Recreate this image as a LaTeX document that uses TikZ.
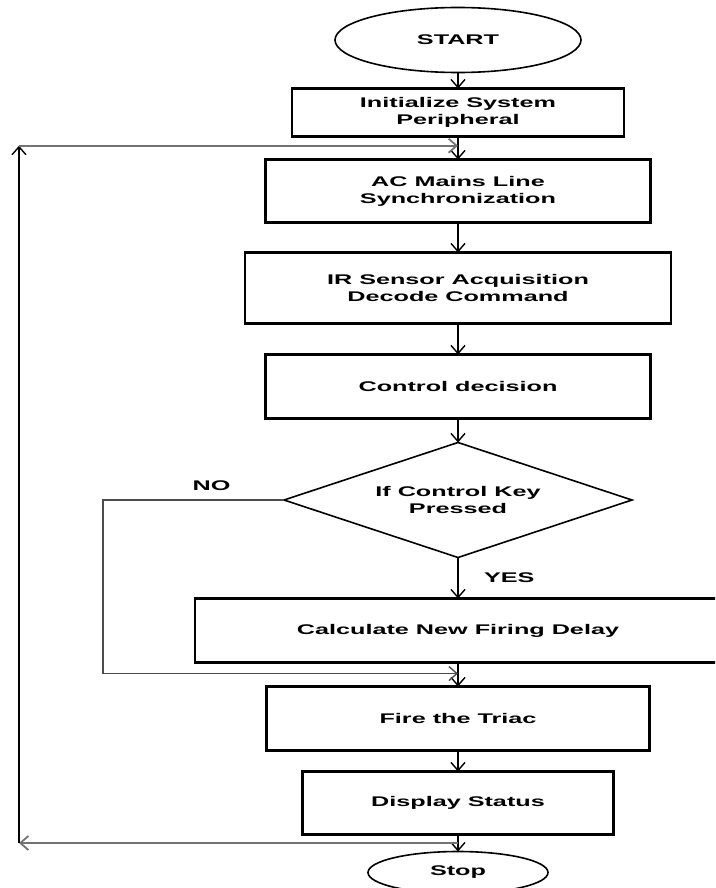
\documentclass[tikz,border=0pt]{standalone}
\usepackage{fontspec}
\newfontfamily\flowfont[FakeStretch=1.8]{Liberation Sans}
\usetikzlibrary{positioning,arrows.meta,shapes.geometric}

\begin{document}
\begin{tikzpicture}[
    x=1pt, y=1pt,
    every node/.style={font=\flowfont\bfseries\fontsize{14}{17}\selectfont},
    box/.style={draw, line width=2.2pt, outer sep=0pt, minimum height=64pt, align=center},
    term/.style={draw, ellipse, line width=1.6pt, outer sep=0pt, align=center},
    decision/.style={draw, diamond, aspect=3, line width=1.6pt, outer sep=0pt, inner sep=2pt,
        minimum width=348pt, minimum height=115pt, align=center},
    arr/.style={-{Straight Barb[length=8pt, width=14pt]}, line width=1.4pt},
    backarr/.style={-{Straight Barb[length=8pt, width=14pt]}, line width=1.8pt, draw=black!55},
    noarr/.style={-{Straight Barb[length=8pt, width=14pt]}, line width=1.4pt, draw=black!70},
    node distance=24pt
]
\useasboundingbox (0,0) rectangle (715,-888);
\clip (0,0) rectangle (715,-888);

\node[term, minimum width=246pt, minimum height=65pt] (start) at (458,-40) {START};
\node[box, minimum width=332pt, minimum height=48pt, below=16pt of start] (init)
    {Initialize System\\Peripheral};
\node[box, minimum width=385pt, minimum height=63pt, below=23pt of init] (sync)
    {AC Mains Line\\Synchronization};
\node[box, minimum width=426pt, minimum height=71pt, below=30pt of sync] (ir)
    {IR Sensor Acquisition\\Decode Command};
\node[box, minimum width=385pt, below=31pt of ir] (ctrl) {Control decision};
\node[decision, below=of ctrl] (key) {If Control Key\\Pressed};
\node[box, minimum width=526pt, below=41pt of key] (calc) {Calculate New Firing Delay};
\node[box, minimum width=383pt, below=of calc] (fire) {Fire the Triac};
\node[box, minimum width=311pt, minimum height=63pt, below=21pt of fire] (disp) {Display Status};
\node[term, minimum width=180pt, minimum height=42pt, below=17pt of disp] (stop) {Stop};

% main flow
\draw[arr] (start) -- (init);
\draw[arr] (init) -- (sync);
\draw[arr] (sync) -- (ir);
\draw[arr] (ir) -- (ctrl);
\draw[arr] (ctrl) -- (key);
\draw[arr] (key) -- node[right=22pt] {YES} (calc);
\draw[arr] (calc) -- (fire);
\draw[arr] (fire) -- (disp);
\draw[arr] (disp) -- (stop);

% side lines
\coordinate (noside) at (103,0);
\coordinate (loopside) at (19,0);
\path (calc.south) -- coordinate[pos=0.46] (nojoin) (fire.north);
\path (init.south) -- coordinate[pos=0.4] (topjoin) (sync.north);
\path (disp.south) -- coordinate[pos=0.5] (backjoin) (stop.north);
\coordinate (backcorner) at (backjoin -| loopside);
\coordinate (topcorner) at (topjoin -| loopside);

\draw[noarr] (key.west) -- node[above=5pt, pos=0.4] {NO} (key.west -| noside) |- (nojoin);
\draw[backarr] (backjoin) -- (backcorner);
\draw[arr] (backcorner) -- (topcorner);
\draw[backarr] (topcorner) -- (topjoin);

\end{tikzpicture}
\end{document}
